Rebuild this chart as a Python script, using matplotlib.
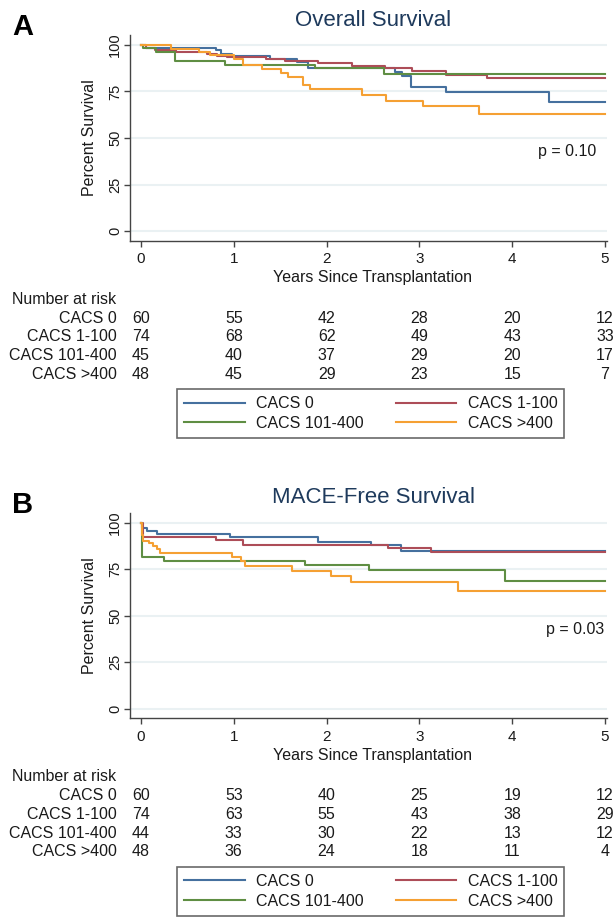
import matplotlib
matplotlib.use("Agg")
import matplotlib.pyplot as plt
from matplotlib.lines import Line2D
from matplotlib.transforms import blended_transform_factory

plt.rcParams['font.family'] = ['Liberation Sans', 'DejaVu Sans']

# Dados
groups = ['CACS 0', 'CACS 1-100', 'CACS 101-400', 'CACS >400']
colors = ['#45709e', '#ad4d58', '#5f8e43', '#f5a033']
years = [0, 1, 2, 3, 4, 5]

# Overall survival (tempo em anos, % sobrevivencia)
os_time_0 = [0, 0.05, 0.81, 0.86, 0.98, 1.39, 1.68, 1.80, 2.74, 2.81, 2.91, 3.29, 4.40]
os_surv_0 = [100, 98.3, 97.2, 95.4, 93.9, 92.4, 90.7, 87.6, 85.5, 83.4, 77.5, 74.5, 69.5]
os_time_1 = [0, 0.05, 0.15, 0.38, 0.71, 0.82, 0.93, 1.35, 1.55, 1.91, 2.27, 2.63, 2.92, 3.29, 3.73]
os_surv_1 = [100, 98.6, 97.3, 96.2, 95.1, 94.2, 93.3, 92.4, 91.4, 90.1, 88.9, 87.4, 86.0, 83.8, 82.2]
os_time_2 = [0, 0.02, 0.16, 0.37, 0.90, 1.87, 2.62]
os_surv_2 = [100, 98.5, 96.0, 91.4, 89.2, 87.5, 84.2]
os_time_3 = [0, 0.32, 0.62, 0.74, 1.00, 1.10, 1.30, 1.51, 1.58, 1.75, 1.82, 2.38, 2.64, 3.04, 3.64]
os_surv_3 = [100, 97.8, 96.5, 94.5, 92.5, 89.2, 87.0, 84.9, 82.9, 78.4, 76.3, 73.2, 70.0, 67.1, 63.1]

# MACE-free survival
mf_time_0 = [0, 0.01, 0.07, 0.17, 0.96, 1.91, 2.48, 2.80]
mf_surv_0 = [100, 97.0, 95.7, 93.9, 92.1, 89.4, 87.9, 84.8]
mf_time_1 = [0, 0.02, 0.81, 1.10, 2.66, 3.12]
mf_surv_1 = [100, 92.1, 90.7, 88.2, 86.6, 84.0]
mf_time_2 = [0, 0.01, 0.25, 1.77, 2.46, 3.92]
mf_surv_2 = [100, 81.7, 79.5, 77.0, 74.3, 68.8]
mf_time_3 = [0, 0.01, 0.02, 0.09, 0.13, 0.17, 0.21, 0.98, 1.08, 1.12, 1.63, 2.05, 2.26, 3.42]
mf_surv_3 = [100, 93.4, 90.3, 88.9, 87.6, 85.8, 83.5, 81.3, 79.4, 76.6, 73.9, 71.2, 68.0, 63.3]

# Number at risk
os_risk = [[60, 55, 42, 28, 20, 12],
           [74, 68, 62, 49, 43, 33],
           [45, 40, 37, 29, 20, 17],
           [48, 45, 29, 23, 15, 7]]
mf_risk = [[60, 53, 40, 25, 19, 12],
           [74, 63, 55, 43, 38, 29],
           [44, 33, 30, 22, 13, 12],
           [48, 36, 24, 18, 11, 4]]

W, H = 614, 917
fig = plt.figure(figsize=(W / 100, H / 100), dpi=100)
fs = 11.5
txt = '#1a1a1a'


def fy(py):
    return 1 - py / H


def panel(off, letter, title, times, survs, risk, pval, px):
    # eixo em pixels: esquerda 130, direita 607, y100 em 45+off, y0 em 231+off
    top, bottom = 35 + off, 240.7 + off
    ax = fig.add_axes([130 / W, fy(bottom), (607 - 130) / W, (bottom - top) / H])
    ax.set_xlim(-11 / 92.8, 5 + 2 / 92.8)
    ax.set_ylim(-(bottom - (231 + off)) / 1.86, 100 + ((45 + off) - top) / 1.86)
    for y in [0, 25, 50, 75, 100]:
        ax.axhline(y, color='#eaf1f3', lw=1.5, zorder=0)
    for t, s, c in zip(times, survs, colors):
        ax.step(t + [5], s + [s[-1]], where='post', color=c, lw=1.5)
    for sp in ['top', 'right']:
        ax.spines[sp].set_visible(False)
    for sp in ['left', 'bottom']:
        ax.spines[sp].set_color('#444444')
        ax.spines[sp].set_linewidth(1.0)
    ax.set_xticks(years)
    ax.set_yticks([0, 25, 50, 75, 100])
    ax.tick_params(axis='both', length=4.5, width=1, color='#444444', labelcolor=txt, labelsize=11)
    ax.tick_params(axis='x', pad=3.8)
    ax.tick_params(axis='y', pad=1, labelrotation=90, labelsize=10.5)
    for lab in ax.get_yticklabels():
        lab.set_va('center')
    ax.text(px, 42.5, pval, fontsize=fs, color=txt, ha='left', va='center')

    fig.text(23 / W, fy(27 + off), letter, fontsize=21, fontweight='bold', ha='center', va='center')
    fig.text(373.5 / W, fy(20 + off), title, fontsize=16, color='#1e3a5c', ha='center', va='center')
    fig.text(90 / W, fy(138 + off), 'Percent Survival', fontsize=fs, color=txt,
             rotation=90, ha='center', va='center')
    fig.text(372.5 / W, fy(277.5 + off), 'Years Since Transplantation', fontsize=fs, color=txt,
             ha='center', va='center')

    # tabela de numero em risco
    fig.text(12.5 / W, fy(299.3 + off), 'Number at risk', fontsize=fs, color=txt, ha='left', va='center')
    tr = blended_transform_factory(ax.transData, fig.transFigure)
    for i, g in enumerate(groups):
        yy = fy(318.3 + 18.7 * i + off)
        fig.text(116.7 / W, yy, g, fontsize=fs, color=txt, ha='right', va='center')
        for x, n in zip(years, risk[i]):
            ax.text(x, yy, str(n), transform=tr, fontsize=fs, color=txt,
                    ha='center', va='center', clip_on=False)

    # legenda
    order = [0, 2, 1, 3]
    handles = [Line2D([], [], color=colors[k], lw=1.5) for k in order]
    labels = [groups[k] for k in order]
    leg = fig.legend(handles, labels, ncol=2, loc='upper left',
                     bbox_to_anchor=(177 / W, fy(389 + off)), borderaxespad=0,
                     frameon=True, fancybox=False, fontsize=fs, handlelength=3.8,
                     handletextpad=0.7, columnspacing=2.0, borderpad=0.45, labelspacing=0.3)
    leg.get_frame().set_edgecolor('#444444')
    leg.get_frame().set_linewidth(1.2)
    for t in leg.get_texts():
        t.set_color(txt)
    return ax


panel(0, 'A', 'Overall Survival',
      [os_time_0, os_time_1, os_time_2, os_time_3],
      [os_surv_0, os_surv_1, os_surv_2, os_surv_3],
      os_risk, 'p = 0.10', 4.28)
panel(477.6, 'B', 'MACE-Free Survival',
      [mf_time_0, mf_time_1, mf_time_2, mf_time_3],
      [mf_surv_0, mf_surv_1, mf_surv_2, mf_surv_3],
      mf_risk, 'p = 0.03', 4.36)

fig.savefig('out.png', dpi=100)
